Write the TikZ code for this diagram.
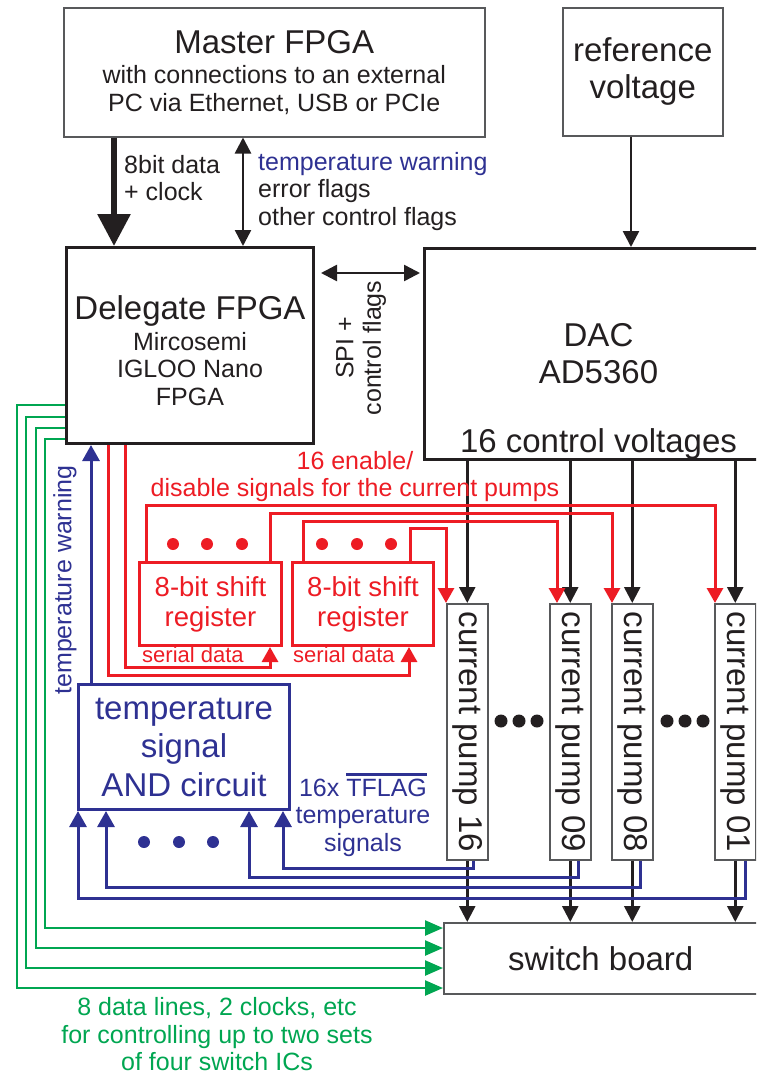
\documentclass[tikz,border=0pt]{standalone}
\usepackage{fontspec}
\setmainfont{Liberation Sans}
\usetikzlibrary{arrows.meta}

\definecolor{ink}{HTML}{231F20}
\definecolor{framegray}{HTML}{58595B}
\definecolor{sigred}{HTML}{ED1C24}
\definecolor{sigblue}{HTML}{2E3192}
\definecolor{siggreen}{HTML}{00A651}

\newcommand{\fsbig}{\fontsize{33}{37}\selectfont}
\newcommand{\fsmid}{\fontsize{25}{27.5}\selectfont}
\newcommand{\fsreg}{\fontsize{27.5}{30}\selectfont}
\newcommand{\fssmall}{\fontsize{22}{24}\selectfont}
\newcommand{\topbar}[1]{\setbox0\hbox{#1}\rlap{\rule[\dimexpr\ht0+2.5pt\relax]{\wd0}{3pt}}\box0}

\tikzset{
  frame/.style={draw=framegray, line width=1.5pt, inner sep=0pt, anchor=north west, align=center, text=ink},
  chip/.style={draw=ink, line width=3pt, inner sep=0pt, anchor=north west, align=center, text=ink},
  wire/.style={color=ink, line width=2.5pt, -{Triangle[width=16pt,length=16pt]}},
  dwire/.style={color=ink, line width=2.5pt, {Triangle[width=16pt,length=16pt]}-{Triangle[width=16pt,length=16pt]}},
  bus/.style={color=ink, line width=6pt, -{Triangle[width=32pt,length=32pt]}},
  redwire/.style={color=sigred, line width=3pt, -{Triangle[width=16pt,length=15pt]}},
  bluewire/.style={color=sigblue, line width=3pt, -{Triangle[width=17pt,length=16pt]}},
  greenwire/.style={color=siggreen, line width=2.5pt, -{Triangle[width=15pt,length=18pt]}},
}

\begin{document}
\begin{tikzpicture}[x=1pt,y=-1pt]
\useasboundingbox (0,0) rectangle (756,1076);
\clip (0,0) rectangle (756,1076);
% Master FPGA and reference
\node[frame, minimum width=421pt, minimum height=129pt, font=\fsmid] (master) at (63,7)
  {{\fsbig Master FPGA}\\[3pt]with connections to an external\\PC via Ethernet, USB or PCIe};
\node[frame, minimum width=160pt, minimum height=128pt, font=\fsbig] (ref) at (562,7) {reference\\voltage};
% Delegate FPGA and DAC
\node[chip, minimum width=247pt, minimum height=196pt, font=\fsmid] (dlg) at (65,246)
  {{\fsbig\rule{0pt}{34pt}Delegate FPGA}\\[3pt]Mircosemi\\IGLOO Nano\\FPGA};
\node[chip, minimum width=348pt, minimum height=211pt, font=\fsbig] (dac) at (423,247) {DAC\\AD5360};
\node[anchor=base, font=\fsbig, text=ink] (cv) at ([yshift=9pt]dac.south) {16 control voltages};
% Master <-> Delegate
\draw[bus] (114,0 |- master.south) -- (114,0 |- dlg.north);
\draw[dwire] (243,0 |- master.south) -- (243,0 |- dlg.north);
\node[anchor=north west, inner sep=0pt, font=\fsmid, align=left, text=ink] (datalbl) at (124,155) {8bit data\\+ clock};
\node[anchor=north west, inner sep=0pt, font=\fsmid, align=left, text=ink] (flaglbl) at (258,152)
  {\textcolor{sigblue}{temperature warning}\\error flags\\other control flags};
% reference -> DAC, SPI
\draw[wire] (631,0 |- ref.south) -- (631,0 |- dac.north);
\draw[dwire, shorten <=6pt, shorten >=3pt] (dlg.east |- 0,273) -- (dac.west |- 0,273);
\node[rotate=90, align=center, font=\fsmid, text=ink] (spilbl) at (361,348) {SPI +\\control flags};
% Current pumps
\foreach \n/\x in {16/446,09/549,08/611,01/714}
  \node[frame, minimum width=41pt, minimum height=256pt, font=\fsbig] (p\n) at (\x,603) {\rotatebox{-90}{current pump \n}};
\foreach \x in {501,519,537,667,685,703}
  \fill[ink] (\x,721) circle (6.5pt);
% Switch board
\node[frame, minimum width=314pt, minimum height=71pt, font=\fsbig] (sw) at (443,922) {switch board};
\foreach \p in {p16,p09,p08,p01} {
  \draw[wire] (dac.south -| \p) -- (\p.north);
  \draw[wire] (\p.south) -- (\p.south |- sw.north);
}
% Shift registers
\node[chip, draw=sigred, text=sigred, font=\fsreg, minimum width=142pt, minimum height=83pt] (sr1) at (138,561) {8-bit shift\\register};
\node[chip, draw=sigred, text=sigred, font=\fsreg, minimum width=141pt, minimum height=83pt] (sr2) at (291,561) {8-bit shift\\register};
\foreach \x in {173,207,242,322,357,391}
  \fill[sigred] (\x,544) circle (6pt);
\draw[redwire] ([xshift=8pt]sr1.north west) |- (715,505) -- (715,0 |- p01.north);
\draw[redwire] ([xshift=-13pt]sr1.north east) |- (612,513) -- (612,0 |- p08.north);
\draw[redwire] ([xshift=12pt]sr2.north west) |- (557,521) -- (557,0 |- p09.north);
\draw[redwire] ([xshift=-25pt]sr2.north east) |- (p16.north west |- 0,528) -- (p16.north west);
\node[font=\fsmid, text=sigred, align=center] (enlbl) at (355,476.5) {16 enable/\\disable signals for the current pumps};
% Serial data
\draw[redwire] (125,0 |- dlg.south) |- (270,667) -- (270,0 |- sr1.south);
\draw[redwire] (108,0 |- dlg.south) |- (409,675) -- (409,0 |- sr2.south);
\node[anchor=base west, inner sep=0pt, font=\fssmall, text=sigred] (ser1) at (142,662) {serial data};
\node[anchor=base west, inner sep=0pt, font=\fssmall, text=sigred] (ser2) at (293,662) {serial data};
% Temperature signals
\node[chip, draw=sigblue, text=sigblue, font={\fontsize{33}{38.5}\selectfont}, minimum width=211pt, minimum height=125pt] (tand) at (77,683)
  {temperature\\signal\\AND circuit};
\draw[bluewire] (91,0 |- tand.north) -- (91,0 |- dlg.south);
\node[rotate=90, font=\fsmid, text=sigblue] (twlbl) at (65,580) {temperature warning};
\foreach \p/\dx/\y/\x in {p16/6/868/283, p09/8/877/249, p08/8.5/887/106, p01/10.5/898/78}
  \draw[bluewire] ([xshift=\dx pt]\p.south) |- (\x,\y) -- (\x,0 |- tand.south);
\foreach \x in {144,179,213}
  \fill[sigblue] (\x,842) circle (6pt);
\node[font=\fsmid, text=sigblue, align=center] (tflbl) at (363,815) {16x \topbar{TFLAG}\\temperature\\signals};
% Switch control lines
\foreach \y/\x/\t in {405/17/988, 417/26/968, 428/36/948, 439/45/928}
  \draw[greenwire] (dlg.west |- 0,\y) -| (\x,\t) -- (sw.west |- 0,\t);
\node[inner sep=0pt, font=\fsmid, text=siggreen, align=center] (grlbl) at (217,1034.5)
  {8 data lines, 2 clocks, etc\\for controlling up to two sets\\of four switch ICs};
\end{tikzpicture}
\end{document}
